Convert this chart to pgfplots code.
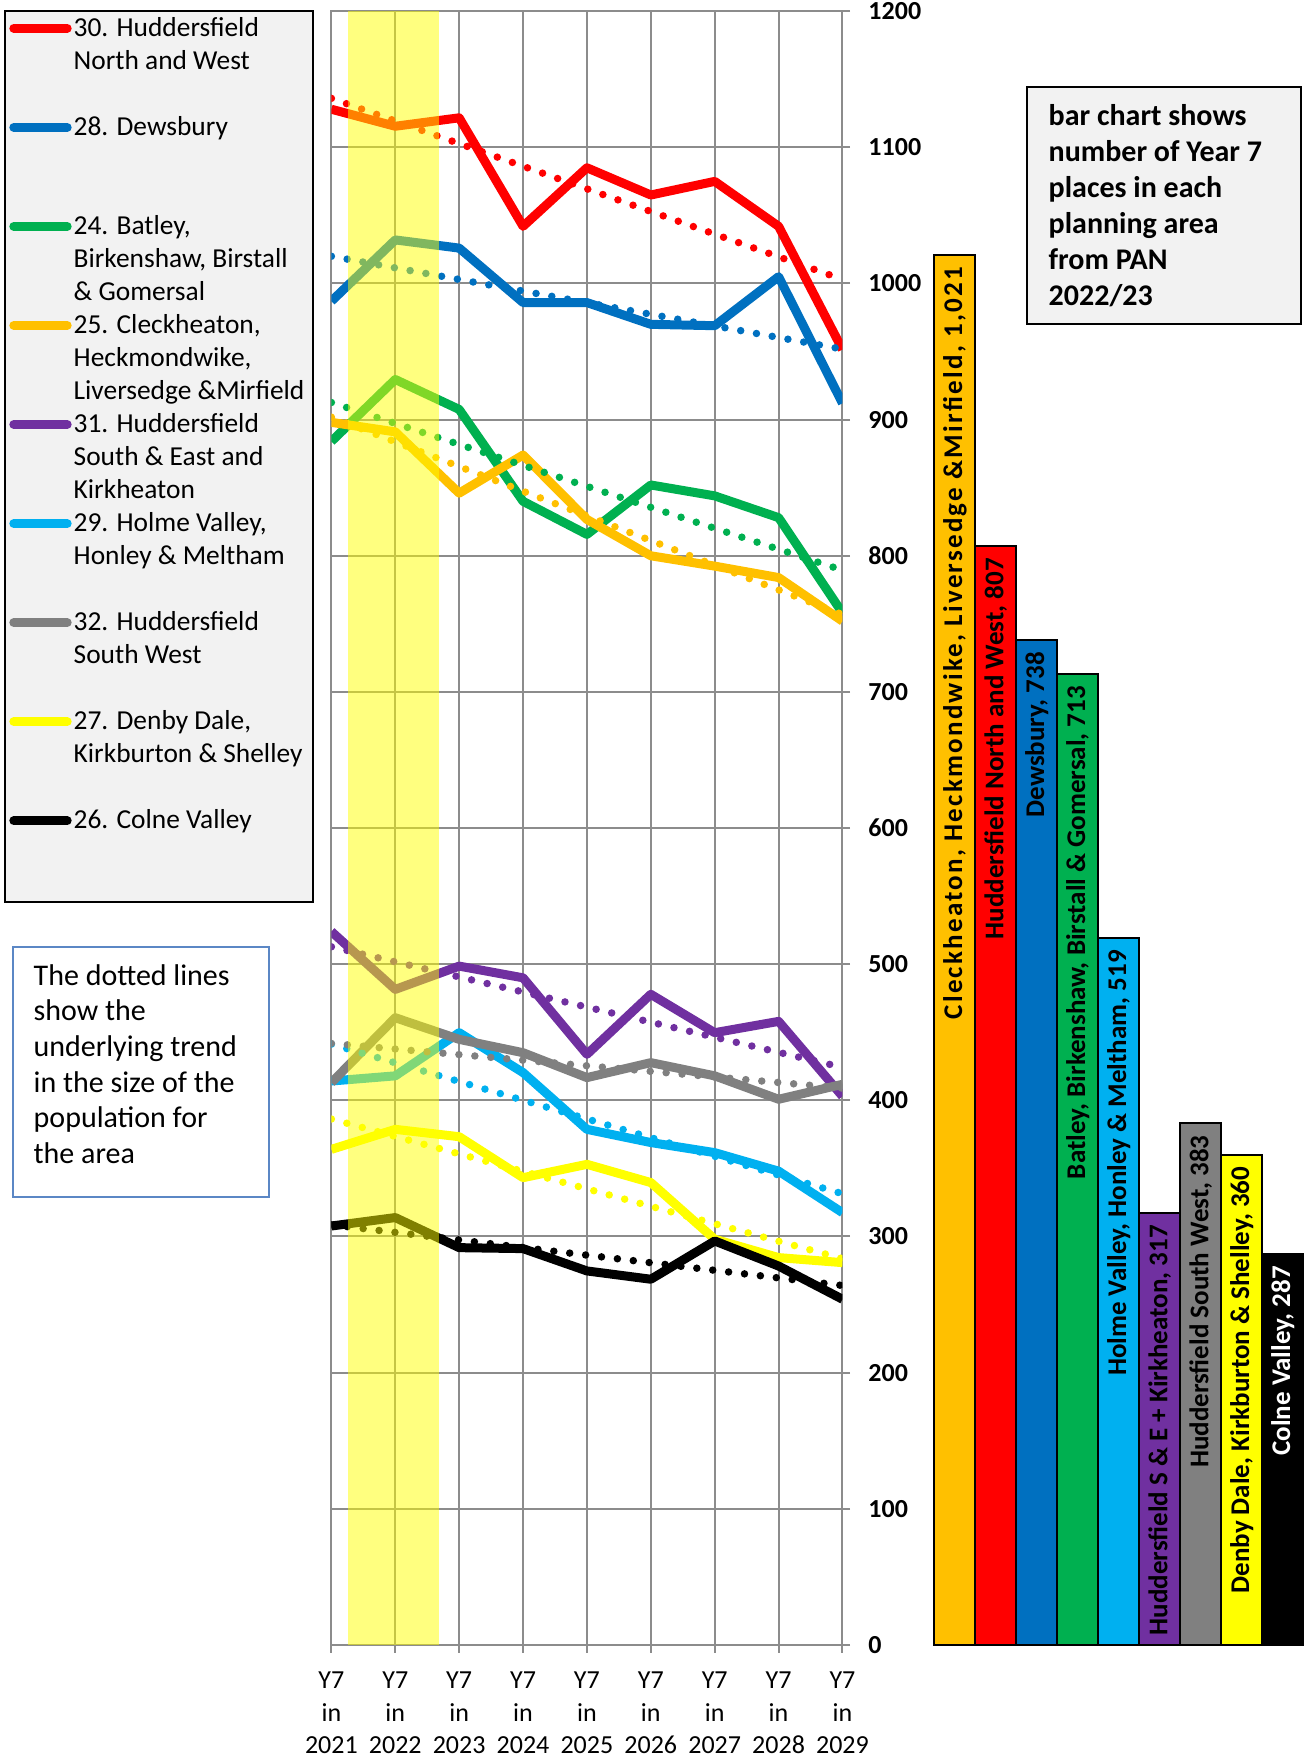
\documentclass[border=0pt]{standalone}
\usepackage{pgfplots}
\pgfplotsset{compat=1.18}
\usepackage{fontspec}
\setmainfont{Carlito}
\definecolor{cRed}{HTML}{FF0000}
\definecolor{cBlue}{HTML}{0070C0}
\definecolor{cGreen}{HTML}{00B050}
\definecolor{cOrange}{HTML}{FFC000}
\definecolor{cPurple}{HTML}{7030A0}
\definecolor{cLBlue}{HTML}{00B0F0}
\definecolor{cGray}{HTML}{808080}
\definecolor{cYellow}{HTML}{FFFF00}
\definecolor{cBlack}{HTML}{000000}
\definecolor{gridgray}{HTML}{8C8C8C}
\definecolor{boxgray}{HTML}{F2F2F2}
\definecolor{noteblue}{HTML}{5B87C5}
\newcommand\legentry[3]{%
  \draw[#1, line width=4.5pt, line cap=round] (6.9pt,{-14.15pt-49.525pt*#2}) -- (33.6pt,{-14.15pt-49.525pt*#2});
  \node[anchor=base west, inner sep=0pt, font=\fontsize{13.7}{16.5}\selectfont] at (36.65pt,{-18pt-49.525pt*#2}) {\parbox[t]{120pt}{#3}};}
\begin{document}
\begin{tikzpicture}
\useasboundingbox (0pt,0pt) rectangle (652pt,-879pt);
% ---------------- line chart ----------------
\begin{axis}[
  scale only axis, width=255.55pt, height=816.85pt,
  at={(165.7pt,-822.45pt)}, anchor=south west,
  xmin=2021, xmax=2029, ymin=0, ymax=1200,
  xtick={2021,2022,...,2029}, ytick={0,100,...,1200},
  xticklabels={{Y7\\in\\2021},{Y7\\in\\2022},{Y7\\in\\2023},{Y7\\in\\2024},{Y7\\in\\2025},{Y7\\in\\2026},{Y7\\in\\2027},{Y7\\in\\2028},{Y7\\in\\2029}},
  xmajorgrids, ymajorgrids,
  major grid style={gridgray, line width=1pt},
  axis line style={gridgray, line width=1pt},
  tick style={gridgray, line width=1pt},
  tick align=outside, major tick length=3.8pt,
  xtick pos=bottom, ytick pos=right, yticklabel pos=right,
  /pgf/number format/1000 sep={},
  /pgf/number format/assume math mode=true,
  yticklabel style={anchor=west, inner sep=0pt, xshift=9pt, text=black, font=\bfseries\fontsize{13}{15}\selectfont},
  xticklabel style={anchor=north, align=center, inner sep=0pt, yshift=-9.5pt, text=black, font=\fontsize{13}{16.25}\selectfont},
  every axis plot/.append style={line width=4.5pt, line join=round},
  trend/.style={line width=3.75pt, line cap=round, dash pattern=on 0pt off 8pt, forget plot},
]
\addplot[cRed] coordinates {(2021,1128) (2022,1115.5) (2023,1121.7) (2024,1042) (2025,1085) (2026,1065) (2027,1075) (2028,1042) (2029,951.5)};
\addplot[cBlue] coordinates {(2021,987) (2022,1032) (2023,1026) (2024,986) (2025,986) (2026,970) (2027,969) (2028,1005) (2029,912)};
\addplot[cGreen] coordinates {(2021,884) (2022,929.5) (2023,907.5) (2024,840) (2025,815.7) (2026,852) (2027,844) (2028,828) (2029,758)};
\addplot[cOrange] coordinates {(2021,898) (2022,891) (2023,846) (2024,874) (2025,826.7) (2026,800) (2027,792.4) (2028,784) (2029,752)};
\addplot[cPurple] coordinates {(2021,524) (2022,481.5) (2023,498.6) (2024,490) (2025,433.8) (2026,477.9) (2027,449.7) (2028,458) (2029,403)};
\addplot[cLBlue] coordinates {(2021,414.2) (2022,418) (2023,449.7) (2024,420.4) (2025,378.7) (2026,369) (2027,361.6) (2028,348) (2029,317.5)};
\addplot[cGray] coordinates {(2021,413) (2022,460.7) (2023,444.8) (2024,435) (2025,416.7) (2026,427.7) (2027,418) (2028,400.8) (2029,411.8)};
\addplot[cYellow] coordinates {(2021,364) (2022,378.7) (2023,373.3) (2024,343.2) (2025,353) (2026,339.6) (2027,298) (2028,284.5) (2029,280.8)};
\addplot[cBlack] coordinates {(2021,307.7) (2022,313.9) (2023,291.8) (2024,291.1) (2025,274.7) (2026,268.6) (2027,296.7) (2028,278.3) (2029,253.9)};
% trend lines
\addplot[cRed, trend] coordinates {(2021,1136) (2029,1003)};
\addplot[cBlue, trend] coordinates {(2021,1020) (2029,951.8)};
\addplot[cGreen, trend] coordinates {(2021,912.6) (2029,789.4)};
\addplot[cOrange, trend] coordinates {(2021,901.8) (2029,756.8)};
\addplot[cPurple, trend] coordinates {(2021,512.8) (2029,424.2)};
\addplot[cLBlue, trend] coordinates {(2021,441.3) (2029,331.4)};
\addplot[cGray, trend] coordinates {(2021,441.8) (2029,409)};
\addplot[cYellow, trend] coordinates {(2021,386.3) (2029,283.7)};
\addplot[cBlack, trend] coordinates {(2021,308.6) (2029,264)};
% highlight band
\addplot[draw=none, fill=cYellow, fill opacity=0.5, forget plot] coordinates {(2021.26,1200) (2022.68,1200)} \closedcycle;
\end{axis}
% ---------------- bar chart ----------------
\begin{axis}[
  scale only axis, width=184.5pt, height=816.85pt,
  at={(467.15pt,-822.45pt)}, anchor=south west,
  xmin=0.5, xmax=9.5, ymin=0, ymax=1200, hide axis, clip=false,
  ybar, bar width=1, bar shift=0pt,
  every axis plot/.append style={draw=black, line width=1pt, bar shift=0pt},
  every node near coord/.append style={rotate=90, anchor=east, inner xsep=5.5pt, inner ysep=0pt, text=black, font=\bfseries\fontsize{13.5}{15}\selectfont},
]
\addplot[fill=cOrange, nodes near coords={\addfontfeatures{LetterSpace=8.3}Cleckheaton, Heckmondwike, Liversedge \&Mirfield, 1,021}] coordinates {(1,1021)};
\addplot[fill=cRed, nodes near coords={Huddersfield North and West, 807}] coordinates {(2,807)};
\addplot[fill=cBlue, nodes near coords={Dewsbury, 738}] coordinates {(3,738)};
\addplot[fill=cGreen, nodes near coords={Batley, Birkenshaw, Birstall \& Gomersal, 713}] coordinates {(4,713)};
\addplot[fill=cLBlue, nodes near coords={Holme Valley, Honley \& Meltham, 519}] coordinates {(5,519)};
\addplot[fill=cPurple, nodes near coords={Huddersfield S \& E + Kirkheaton, 317}] coordinates {(6,317)};
\addplot[fill=cGray, nodes near coords={Huddersfield South West, 383}] coordinates {(7,383)};
\addplot[fill=cYellow, nodes near coords={Denby Dale, Kirkburton \& Shelley, 360}] coordinates {(8,360)};
\addplot[fill=cBlack, nodes near coords={Colne Valley, 287}, every node near coord/.append style={text=white}] coordinates {(9,287)};
\end{axis}
% ---------------- legend ----------------
\draw[black, line width=1pt, fill=boxgray] (2.5pt,-5.5pt) rectangle (156.5pt,-451pt);
\legentry{cRed}{0}{30. Huddersfield\\North and West}
\legentry{cBlue}{1}{28. Dewsbury}
\legentry{cGreen}{2}{24. Batley,\\Birkenshaw, Birstall\\\& Gomersal}
\legentry{cOrange}{3}{25. Cleckheaton,\\Heckmondwike,\\Liversedge \&Mirfield}
\legentry{cPurple}{4}{31. Huddersfield\\South \& East and\\Kirkheaton}
\legentry{cLBlue}{5}{29. Holme Valley,\\Honley \& Meltham}
\legentry{cGray}{6}{32. Huddersfield\\South West}
\legentry{cYellow}{7}{27. Denby Dale,\\Kirkburton \& Shelley}
\legentry{cBlack}{8}{26. Colne Valley}
% ---------------- text boxes ----------------
\draw[black, line width=1pt, fill=boxgray] (513.35pt,-43.65pt) rectangle (650.5pt,-162pt);
\node[anchor=base west, inner sep=0pt, font=\bfseries\fontsize{15}{18}\selectfont] at (524.15pt,-62.5pt)
  {\parbox[t]{125pt}{bar chart shows\\number of Year 7\\places in each\\planning area\\from PAN\\2022/23}};
\draw[noteblue, line width=1pt, fill=white] (6.35pt,-473.65pt) rectangle (134.65pt,-598.35pt);
\node[anchor=base west, inner sep=0pt, font=\fontsize{15}{17.85}\selectfont] at (16.65pt,-492.5pt)
  {\parbox[t]{116pt}{The dotted lines\\show the\\underlying trend\\in the size of the\\population for\\the area}};
\end{tikzpicture}
\end{document}
